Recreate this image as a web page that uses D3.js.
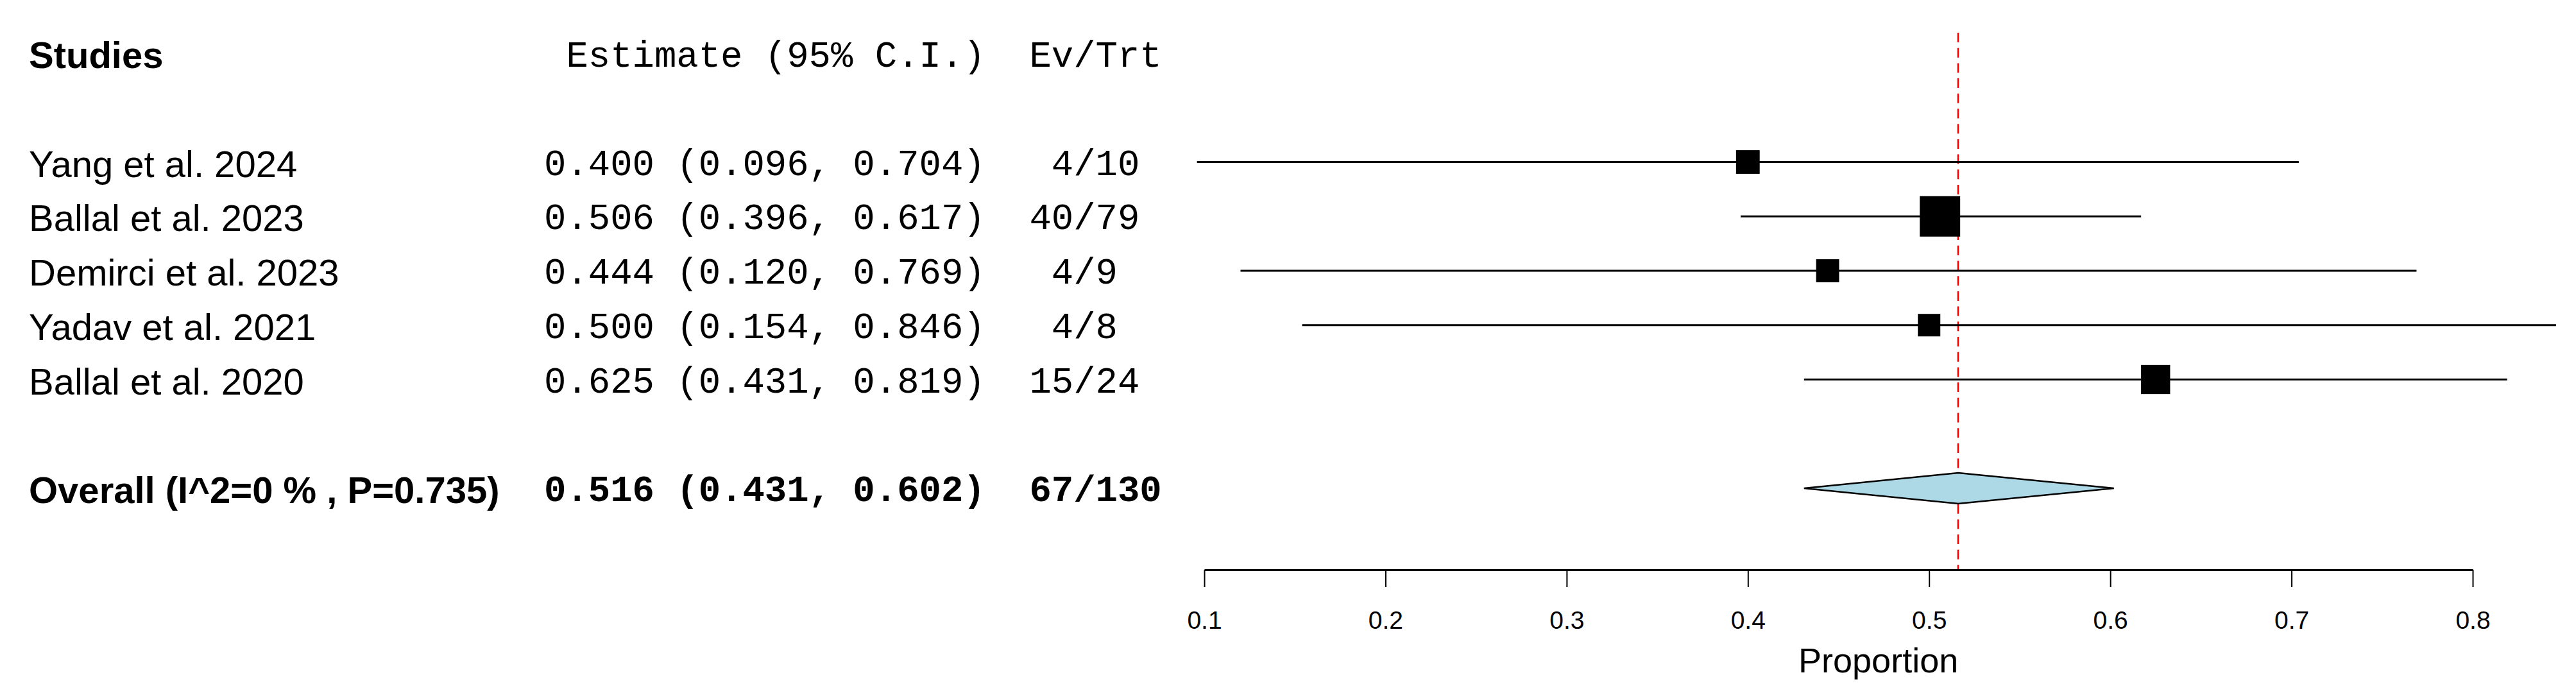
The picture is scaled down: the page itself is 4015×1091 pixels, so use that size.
<!DOCTYPE html>
<html>
<head>
<meta charset="utf-8">
<script src="https://cdn.jsdelivr.net/npm/d3@7"></script>
<style>
  html, body { margin: 0; padding: 0; background: #ffffff; }
  svg { display: block; }
  .mono { font-family: "Liberation Mono", "Courier New", monospace; white-space: pre; }
  .sans { font-family: "Liberation Sans", Arial, sans-serif; }
</style>
</head>
<body>
<script>
// ---------------- data ----------------
const studies   = ["Yang et al. 2024", "Ballal et al. 2023", "Demirci et al. 2023", "Yadav et al. 2021", "Ballal et al. 2020"];
const estimates = [0.400, 0.506, 0.444, 0.500, 0.625];
const lowerCI   = [0.096, 0.396, 0.120, 0.154, 0.431];
const upperCI   = [0.704, 0.617, 0.769, 0.846, 0.819];
const events    = [4, 40, 4, 4, 15];
const totals    = [10, 79, 9, 8, 24];
const weights   = [7.9, 59.8, 6.9, 6.1, 19.4];   // % weight (box size)

const overallLabel = "Overall (I^2=0 % , P=0.735)";
const overallCI    = [0.516, 0.431, 0.602];      // estimate, lower, upper
const overallCount = [67, 130];                  // events, total

const xTicks     = [0.1, 0.2, 0.3, 0.4, 0.5, 0.6, 0.7, 0.8];
const headers    = ["Studies", "Estimate (95% C.I.)", "Ev/Trt"];
const axisTitle  = "Proportion";

// ---------------- layout ----------------
const W = 4015, H = 1091;
const svg = d3.select("body").append("svg").attr("width", W).attr("height", H);
svg.append("rect").attr("width", W).attr("height", H).attr("fill", "#ffffff");

const x = d3.scaleLinear().domain([0.1, 0.8]).range([1877, 3854]);
const y = d3.scaleLinear().domain([0, 6]).range([252.5, 761]);   // row index -> y
const box = d3.scaleSqrt().domain([0, d3.max(weights)]).range([21.9, 63]);

const fmt3 = d3.format(".3f");
const sansSize = 58, monoSize = 57.3;
const colName = 45, colMono = 848;
const axisY = 888;

// header
svg.append("text").attr("class", "sans").attr("x", colName).attr("y", y(-2) + 23)
  .attr("font-size", sansSize).attr("font-weight", "bold").text(headers[0]);
svg.append("text").attr("class", "mono").attr("x", colMono).attr("y", y(-2) + 21)
  .attr("font-size", monoSize).text(" " + headers[1] + "  " + headers[2]);

// study rows text
const rowStr = (e, l, u, ev, n) => {
  const evs = String(ev).padStart(2, " ");
  return `${fmt3(e)} (${fmt3(l)}, ${fmt3(u)})  ${evs}/${n}`;
};

studies.forEach((s, i) => {
  svg.append("text").attr("class", "sans").attr("x", colName).attr("y", y(i) + 23)
    .attr("font-size", sansSize).text(s);
  svg.append("text").attr("class", "mono").attr("x", colMono).attr("y", y(i) + 20)
    .attr("font-size", monoSize)
    .text(rowStr(estimates[i], lowerCI[i], upperCI[i], events[i], totals[i]));
});

// overall text
svg.append("text").attr("class", "sans").attr("x", colName).attr("y", y(6) + 23)
  .attr("font-size", sansSize).attr("font-weight", "bold").text(overallLabel);
svg.append("text").attr("class", "mono").attr("x", colMono).attr("y", y(6) + 20)
  .attr("font-size", monoSize).attr("font-weight", "bold")
  .text(rowStr(overallCI[0], overallCI[1], overallCI[2], overallCount[0], overallCount[1]));

// reference (summary) dashed line
svg.append("line")
  .attr("x1", x(overallCI[0])).attr("x2", x(overallCI[0]))
  .attr("y1", 51).attr("y2", axisY)
  .attr("stroke", "#ff0000").attr("stroke-width", 2.5)
  .attr("stroke-dasharray", "15,8.7");

// CI lines
const g = svg.append("g");
g.selectAll("line.ci").data(studies).join("line").attr("class", "ci")
  .attr("x1", (d, i) => x(lowerCI[i])).attr("x2", (d, i) => x(upperCI[i]))
  .attr("y1", (d, i) => y(i)).attr("y2", (d, i) => y(i))
  .attr("stroke", "#000").attr("stroke-width", 3);

// boxes
g.selectAll("rect.box").data(studies).join("rect").attr("class", "box")
  .attr("x", (d, i) => x(estimates[i]) - box(weights[i]) / 2)
  .attr("y", (d, i) => y(i) - box(weights[i]) / 2)
  .attr("width", (d, i) => box(weights[i]))
  .attr("height", (d, i) => box(weights[i]))
  .attr("fill", "#000");

// diamond
const dy = y(6), dh = 24;
svg.append("polygon")
  .attr("points", [
    [x(overallCI[1]), dy], [x(overallCI[0]), dy - dh],
    [x(overallCI[2]), dy], [x(overallCI[0]), dy + dh]
  ].map(p => p.join(",")).join(" "))
  .attr("fill", "#add8e6").attr("stroke", "#000").attr("stroke-width", 2.5);

// x axis
const axis = d3.axisBottom(x).tickValues(xTicks).tickFormat(d3.format(".1f"))
  .tickSize(27).tickSizeOuter(0).tickPadding(37);
const ax = svg.append("g").attr("transform", `translate(0,${axisY})`).call(axis);
ax.select(".domain").attr("stroke", "#000").attr("stroke-width", 3);
ax.selectAll(".tick line").attr("stroke", "#000").attr("stroke-width", 2);
ax.selectAll(".tick text").attr("class", "sans").attr("font-size", 39).attr("fill", "#000")
  .attr("font-family", "Liberation Sans, Arial, sans-serif").attr("dy", null).attr("y", 92);

svg.append("text").attr("class", "sans")
  .attr("x", x(0.472)).attr("y", 1048).attr("text-anchor", "middle")
  .attr("font-size", 54).text(axisTitle);
</script>
</body>
</html>
